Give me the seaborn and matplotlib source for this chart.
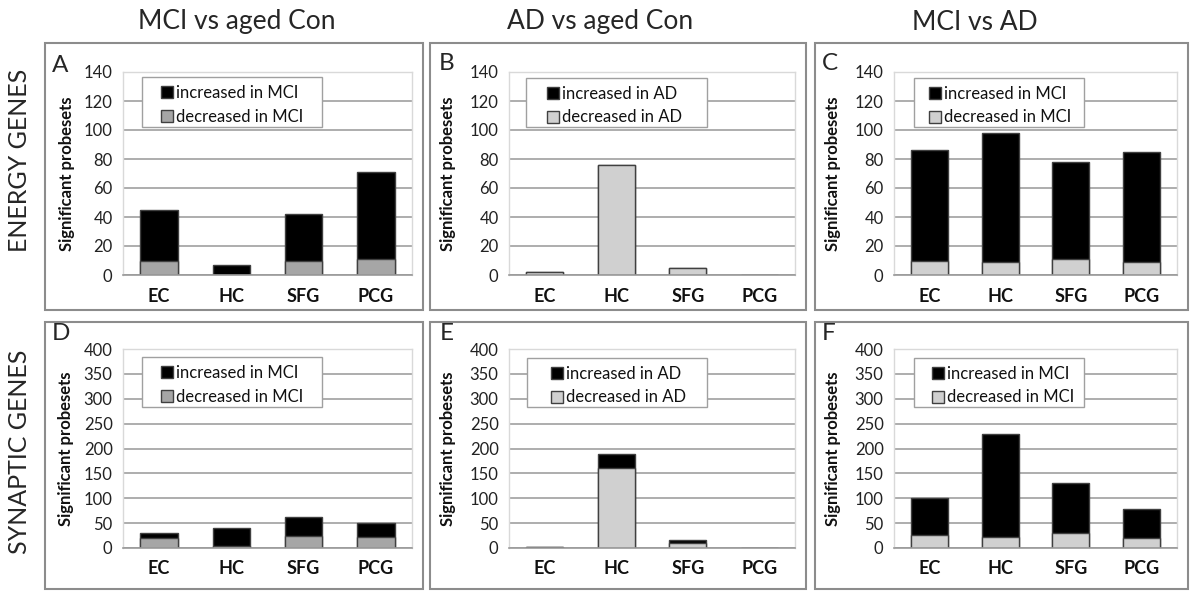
import matplotlib
matplotlib.use("Agg")
import matplotlib.pyplot as plt
from matplotlib.patches import Rectangle, Patch
import seaborn as sns
import pandas as pd

regions = ["EC", "HC", "SFG", "PCG"]

col_titles = ["MCI vs aged Con", "AD vs aged Con", "MCI vs AD"]
row_titles = ["ENERGY GENES", "SYNAPTIC GENES"]
panel_letters = ["A", "B", "C", "D", "E", "F"]

# Energy genes
a_increased = [35, 7, 32, 60]
a_decreased = [10, 0, 10, 11]
b_increased = [0, 0, 0, 0]
b_decreased = [2, 76, 5, 0]
c_increased = [76, 89, 67, 76]
c_decreased = [10, 9, 11, 9]
# Synaptic genes
d_increased = [10, 36, 37, 28]
d_decreased = [20, 5, 25, 22]
e_increased = [0, 27, 6, 0]
e_decreased = [3, 161, 11, 0]
f_increased = [73, 206, 100, 59]
f_decreased = [27, 23, 31, 20]

legend_groups = ["MCI", "AD", "MCI", "MCI", "AD", "MCI"]
energy_ticks = [0, 20, 40, 60, 80, 100, 120, 140]
synaptic_ticks = [0, 50, 100, 150, 200, 250, 300, 350, 400]

panels = [
    (a_increased, a_decreased), (b_increased, b_decreased), (c_increased, c_decreased),
    (d_increased, d_decreased), (e_increased, e_decreased), (f_increased, f_decreased),
]

W, H = 1191, 591
sns.set_theme(style="white")
plt.rcParams["font.family"] = ["Lato", "DejaVu Sans"]

fig = plt.figure(figsize=(W / 100, H / 100), dpi=100)

def fx(x):
    return x / W

def fy(y):
    return 1 - y / H

# axes pixel boxes (left, top, right, bottom)
ax_boxes = [
    (123, 72, 412, 275), (509, 72, 795, 275), (894, 72, 1177, 275),
    (123, 349, 412, 548), (509, 349, 795, 548), (894, 349, 1177, 548),
]
panel_boxes = [
    (45, 43, 423, 310), (430, 43, 806, 310), (815, 43, 1188, 310),
    (45, 322, 423, 589), (430, 322, 806, 589), (815, 322, 1188, 589),
]
# legend frames in pixels (left, top, right, bottom)
legend_boxes = [
    (142, 77, 322, 127), (526, 78, 707, 127), (914, 78, 1084, 127),
    (142, 357, 322, 407), (527, 358, 707, 407), (914, 358, 1084, 407),
]
legend_inset = [19, 21, 15, 19, 24, 18]
dark_gray = "#a6a6a6"
light_gray = "#d0d0d0"
dec_colors = [dark_gray, light_gray, light_gray, dark_gray, light_gray, light_gray]
ylabel_x = [-0.166, -0.185, -0.187, -0.17, -0.185, -0.187]
letter_pos = [(52, 66), (439, 64), (822, 64), (52, 334), (440, 334), (822, 334)]

for (l, t, r, b) in panel_boxes:
    fig.patches.append(Rectangle((fx(l), fy(b)), fx(r) - fx(l), fy(t) - fy(b),
                                 transform=fig.transFigure, fill=False,
                                 edgecolor="#8c8c8c", linewidth=1.5))

for i, ((inc, dec), (l, t, r, b)) in enumerate(zip(panels, ax_boxes)):
    ax = fig.add_axes([fx(l), fy(b), fx(r) - fx(l), fy(t) - fy(b)])
    total = [x + y for x, y in zip(inc, dec)]
    df = pd.DataFrame({"region": regions, "total": total, "decreased": dec})
    sns.barplot(data=df, x="region", y="total", color="black", width=0.52,
                edgecolor="#404040", linewidth=1, ax=ax, saturation=1)
    sns.barplot(data=df, x="region", y="decreased", color=dec_colors[i], width=0.52,
                edgecolor="#404040", linewidth=1, ax=ax, saturation=1)
    ticks = energy_ticks if i < 3 else synaptic_ticks
    ax.set_ylim(ticks[0], ticks[-1])
    ax.set_yticks(ticks)
    ax.set_xlim(-0.5, 3.5)
    ax.yaxis.grid(True, color="#a0a0a0", linewidth=1.2)
    ax.set_axisbelow(True)
    for s in ["top", "right", "left"]:
        ax.spines[s].set_color("#d9d9d9")
        ax.spines[s].set_linewidth(1)
    ax.spines["bottom"].set_color("#9a9a9a")
    ax.spines["bottom"].set_linewidth(1.2)
    ax.tick_params(axis="both", length=0)
    ax.tick_params(axis="y", labelsize=12, pad=7.5, labelcolor="#222222")
    ax.tick_params(axis="x", pad=9)
    for lab in ax.get_xticklabels():
        lab.set_fontweight("bold")
        lab.set_fontsize(13)
        lab.set_color("#111111")
    ax.set_xlabel("")
    ax.set_ylabel("Significant probesets", fontsize=12, fontweight="bold", color="#111111")
    ax.yaxis.set_label_coords(ylabel_x[i], 0.5)

    # legend frame drawn in its pixel box, legend entries placed inside it
    lx0, ly0, lx1, ly1 = legend_boxes[i]
    ax_w = r - l
    ax_h = b - t
    frame = Rectangle(((lx0 - l) / ax_w, (b - ly1) / ax_h),
                      (lx1 - lx0) / ax_w, (ly1 - ly0) / ax_h,
                      transform=ax.transAxes, facecolor="white",
                      edgecolor="#a0a0a0", linewidth=1, zorder=4)
    ax.add_patch(frame)
    g = legend_groups[i]
    handles = [Patch(facecolor="black", edgecolor="#404040", label=f"increased in {g}"),
               Patch(facecolor=dec_colors[i], edgecolor="#404040", label=f"decreased in {g}")]
    leg = ax.legend(handles=handles, loc="upper left",
                    bbox_to_anchor=((lx0 + legend_inset[i] - l) / ax_w, (b - (ly0 + 8)) / ax_h),
                    borderaxespad=0, fontsize=12, frameon=False,
                    handlelength=0.72, handleheight=0.72, handletextpad=0.2,
                    labelspacing=0.45, borderpad=0)
    leg.set_zorder(5)
    for txt in leg.get_texts():
        txt.set_color("#111111")
    lx, ly = letter_pos[i]
    fig.text(fx(lx), fy(ly), panel_letters[i], fontsize=17.5, ha="left", va="center")

for title, xc in zip(col_titles, [237, 600, 975]):
    fig.text(fx(xc), fy(22), title, fontsize=19, ha="center", va="center")
for title, yc in zip(row_titles, [160, 452]):
    fig.text(fx(20), fy(yc), title, fontsize=18, ha="center", va="center", rotation=90)

fig.savefig("out.png", dpi=100)
